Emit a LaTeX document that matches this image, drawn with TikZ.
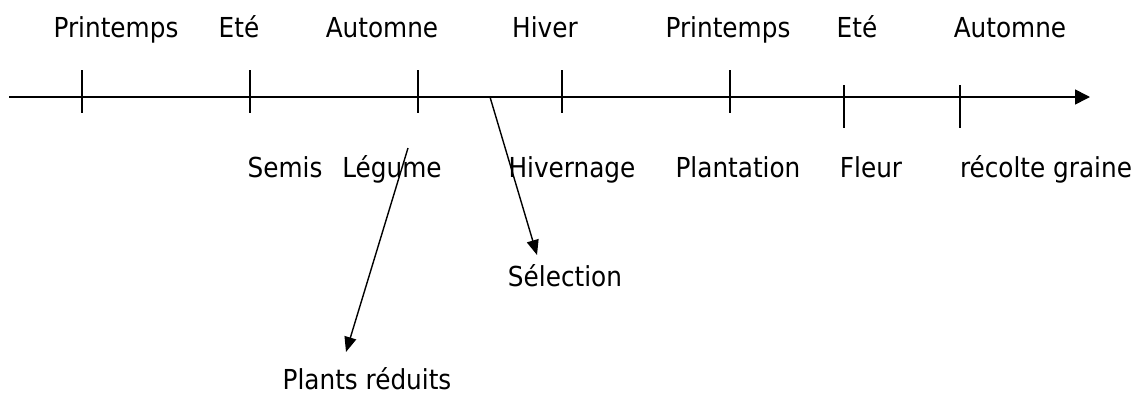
\documentclass[tikz,border=0pt]{standalone}
\usepackage{fontspec}
\setmainfont{DejaVu Sans Condensed}
\usetikzlibrary{arrows.meta}
\begin{document}
\begin{tikzpicture}[x=1pt,y=-1pt,
  lbl/.style={anchor=base,inner sep=0pt,font=\fontsize{27.5}{32}\selectfont},
  tick/.style={line width=1.4pt},
  axis/.style={line width=1.6pt,-{Triangle[length=15pt,width=15pt]}},
  conn/.style={line width=1.4pt,-{Triangle[length=15pt,width=12pt]}}]
\useasboundingbox (0,0) rectangle (1138,394);
% axis
\coordinate (a0) at (9,97);
\coordinate (a1) at (1090,97);
\draw[axis] (a0) -- (a1);
% ticks
\foreach \n/\x/\t/\b in {t1/82/70/113,t2/250/70/113,t3/418/70/113,t4/562/70/113,t5/730/70/113,t6/844/85/128,t7/960/85/128}{
  \coordinate (\n top) at (\x,\t);
  \coordinate (\n bot) at (\x,\b);
  \draw[tick] (\n top) -- (\n bot);
}
% top labels
\node[lbl] (p1) at (116,37) {Printemps};
\node[lbl] (e1) at (239,37) {Eté};
\node[lbl] (au1) at (382,37) {Automne};
\node[lbl] (h1) at (545,37) {Hiver};
\node[lbl] (p2) at (728,37) {Printemps};
\node[lbl] (e2) at (857,37) {Eté};
\node[lbl] (au2) at (1010,37) {Automne};
% bottom labels
\node[lbl] (semis) at (285,177) {Semis};
\node[lbl] (legume) at (392,177) {Légume};
\node[lbl] (hivernage) at (572,177) {Hivernage};
\node[lbl] (plantation) at (738,177) {Plantation};
\node[lbl] (fleur) at (871,177) {Fleur};
\node[lbl] (recolte) at (1046,177) {récolte graine};
\node[lbl] (selection) at (565,286) {Sélection};
\node[lbl] (plants) at (367,389) {Plants réduits};
% connectors
\coordinate (c1s) at (408,148);
\coordinate (c1e) at (346,352);
\draw[conn] (c1s) -- (c1e);
\coordinate (c2s) at (490,97);
\coordinate (c2e) at (537,255);
\draw[conn] (c2s) -- (c2e);
\end{tikzpicture}
\end{document}
